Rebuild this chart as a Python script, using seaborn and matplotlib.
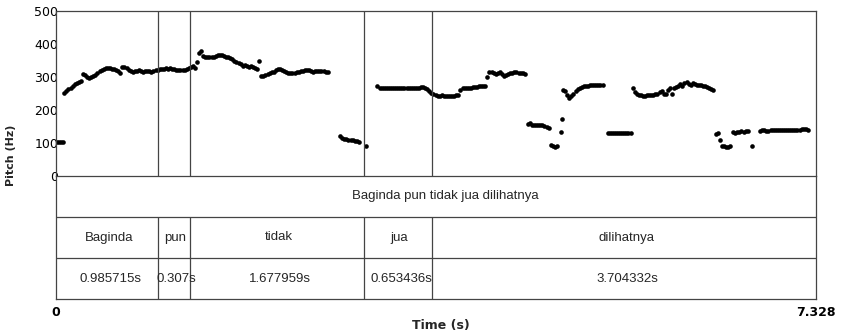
import numpy as np
import pandas as pd
import matplotlib
matplotlib.use("Agg")
import matplotlib.pyplot as plt
import seaborn as sns

# TextGrid tiers
sentence = "Baginda pun tidak jua dilihatnya"
words = ["Baginda", "pun", "tidak", "jua", "dilihatnya"]
durations = [0.985715, 0.307, 1.677959, 0.653436, 3.704332]

# pitch track (Hz), one value per 0.02 s frame; each voiced stretch has a start time
frame_step = 0.02
pitch_starts = [0.01, 0.08, 2.74, 2.99, 3.10, 4.55, 4.77, 4.87, 4.88, 4.89,
                5.32, 5.56, 6.36, 6.53, 6.71, 6.79]
pitch_hz = [
    [104, 104, 103, 104],
    [251, 258, 264, 268, 273, 278, 281, 284, 288, 310, 305, 300, 297, 300, 303, 306,
     312, 318, 322, 325, 326, 327, 326, 325, 324, 322, 318, 312, 331, 330, 326, 322,
     319, 316, 317, 319, 320, 318, 316, 317, 318, 317, 316, 318, 320, 322, 324, 325,
     325, 326, 325, 326, 325, 324, 322, 321, 321, 322, 322, 323, 326, 330, 333, 326,
     346, 372, 378, 365, 362, 362, 360, 361, 362, 364, 366, 368, 366, 364, 362, 360,
     357, 354, 350, 346, 342, 338, 334, 336, 332, 330, 333, 330, 326, 323, 349, 303,
     304, 306, 309, 313, 316, 316, 320, 324, 325, 322, 318, 314, 312, 311, 312, 313,
     315, 316, 317, 318, 320, 322, 321, 318, 316, 317, 318, 319, 318, 317, 315, 314],
    [120, 116, 113, 112, 110, 108, 110, 107, 105, 104],
    [92],
    [273, 268, 267, 267, 266, 266, 266, 266, 266, 266, 266, 266, 266, 267, 267, 267,
     267, 267, 268, 268, 268, 270, 271, 268, 264, 258, 252, 248, 244, 243, 242, 244,
     243, 241, 241, 242, 243, 243, 244, 246, 262, 266, 267, 268, 267, 268, 269, 269,
     270, 272, 273, 272, 274, 300, 315, 316, 312, 309, 312, 314, 310, 303, 307, 310,
     311, 313, 314, 314, 312, 311, 311, 310],
    [158, 160, 155, 154, 155, 156, 155, 156, 152, 148, 144],
    [94, 91, 89, 90],
    [134],
    [173],
    [262, 258, 245, 236, 242, 250, 258, 264, 268, 270, 272, 273, 274, 275, 276, 276,
     276, 275, 276, 276],
    [130, 129, 129, 130, 130, 129, 129, 130, 130, 129, 130, 131],
    [266, 255, 247, 245, 244, 243, 243, 244, 244, 245, 246, 247, 250, 255, 258, 248,
     250, 262, 268, 248, 266, 271, 274, 278, 272, 282, 286, 278, 276, 281, 279, 276,
     276, 275, 274, 272, 270, 268, 265, 262],
    [127, 130, 108, 92, 90, 88, 89, 90],
    [133, 130, 132, 133, 135, 134, 136, 137],
    [90],
    [136, 138, 139, 137, 137, 138, 138, 139, 139, 139, 138, 138, 138, 138, 138, 139,
     139, 139, 139, 140, 141, 143, 141, 140],
]

rows = []
for start, hz in zip(pitch_starts, pitch_hz):
    for i, f0 in enumerate(hz):
        rows.append((start + i * frame_step, f0))
pitch = pd.DataFrame(rows, columns=["time", "hz"])

bounds = np.concatenate([[0], np.cumsum(durations)])
total = bounds[-1]
inner = bounds[1:-1]

sns.set_style("white")
plt.rcParams["font.family"] = ["DejaVu Sans"]
line_col = "#444444"
W, H = 842, 335

fig = plt.figure(figsize=(W / 100, H / 100), dpi=100)
ax = fig.add_axes([56 / W, 1 - 176 / H, 760 / W, 165 / H])
tax = fig.add_axes([56 / W, 1 - 299 / H, 760 / W, 123 / H])

# pitch panel
sns.scatterplot(data=pitch, x="time", y="hz", ax=ax, color="black", s=11,
                linewidth=0, legend=False)
ax.vlines(inner, 0, 500, color=line_col, lw=0.9)
ax.set_xlim(0, total)
ax.set_ylim(0, 500)
ax.set_xticks([])
ax.set_yticks(range(0, 501, 100))
ax.tick_params(axis="y", direction="out", length=4, width=0.9, pad=-5.5,
               labelsize=9, colors="black")
ax.set_xlabel("")
ax.set_ylabel("")
for side, sp in ax.spines.items():
    sp.set_color(line_col)
    sp.set_linewidth(0.9)
ax.spines["bottom"].set_visible(False)

# tier panel
tax.set_xlim(0, total)
tax.set_ylim(0, 3)
tax.axhline(1, color=line_col, lw=0.9)
tax.axhline(2, color=line_col, lw=0.9)
tax.vlines(inner, 0, 2, color=line_col, lw=0.9)
for sp in tax.spines.values():
    sp.set_color(line_col)
    sp.set_linewidth(0.9)
tax.set_yticks([])
tax.set_xticks([0, total])
tax.set_xticklabels(["0", "7.328"], fontweight="bold", fontsize=9)
tax.tick_params(axis="x", direction="out", length=4, width=0.9, pad=1,
                colors="black")

tier_font = dict(family="Liberation Sans", fontsize=9.5, ha="center", va="center")
labels = [tax.text(total / 2, 2.5, sentence, **tier_font)]
mids = (bounds[:-1] + bounds[1:]) / 2
for m, w, d in zip(mids, words, durations):
    labels.append(tax.text(m, 1.5, w, **tier_font))
    labels.append(tax.text(m, 0.5, f"{d:.6f}".rstrip("0") + "s", **tier_font))

fig.text(11 / W, 1 - 155 / H, "Pitch (Hz)", rotation=90, ha="center", va="center",
         fontsize=8, fontweight="bold")
fig.text(441 / W, 1 - 326 / H, "Time (s)", ha="center", va="center",
         fontsize=9, fontweight="bold")

# Praat draws text a little right of centre; mimic that drift
fig.canvas.draw()
r = fig.canvas.get_renderer()
px_per_s = tax.transData.transform((1, 0))[0] - tax.transData.transform((0, 0))[0]
for t in labels:
    wpx = t.get_window_extent(r).width
    x, y = t.get_position()
    t.set_x(x + 0.05 * wpx / px_per_s)

fig.savefig("out.png", dpi=100)
